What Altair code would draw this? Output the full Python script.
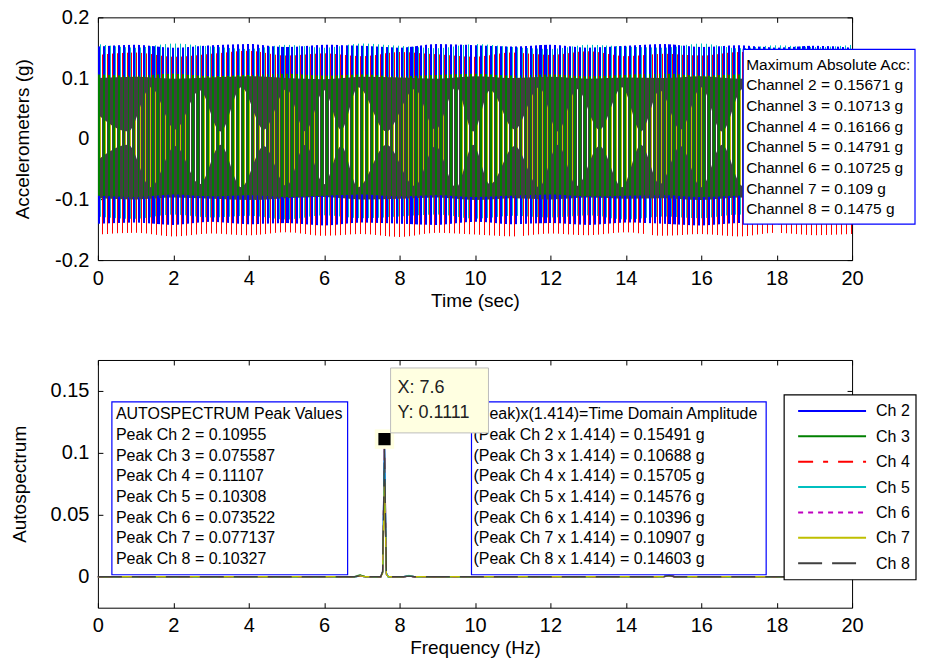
import altair as alt
import pandas as pd

# ---------------- data ----------------
channels = ["Ch 2", "Ch 3", "Ch 4", "Ch 5", "Ch 6", "Ch 7", "Ch 8"]
channel_nums = [2, 3, 4, 5, 6, 7, 8]
channel_colors = ["#0000FF", "#008000", "#FF0000", "#00BFBF", "#BF00BF", "#BFBF00", "#404040"]
channel_dash = [[1, 0], [1, 0], [15, 10, 5, 10], [1, 0], [5, 5], [1, 0], [24, 10]]

# top panel: envelopes of the 7.6 Hz oscillation (g)
env_time = [0, 1, 2, 3, 4, 5, 6, 7, 8, 9, 10, 11, 12, 13, 14, 15, 16, 17, 18, 19, 20]
env_upper = {
    "Ch 2": [0.152, 0.155, 0.150, 0.154, 0.156, 0.151, 0.155, 0.153, 0.150, 0.156, 0.154,
             0.152, 0.155, 0.150, 0.153, 0.156, 0.151, 0.154, 0.150, 0.153, 0.150],
    "Ch 3": [0.106, 0.104, 0.107, 0.103, 0.105, 0.107, 0.104, 0.106, 0.103, 0.105, 0.107,
             0.104, 0.106, 0.103, 0.105, 0.107, 0.104, 0.106, 0.104, 0.105, 0.104],
    "Ch 4": [0.138, 0.142, 0.135, 0.140, 0.145, 0.137, 0.141, 0.136, 0.143, 0.139, 0.135,
             0.142, 0.138, 0.144, 0.136, 0.140, 0.137, 0.143, 0.139, 0.135, 0.140],
    "Ch 5": [0.156, 0.150, 0.157, 0.152, 0.148, 0.155, 0.150, 0.157, 0.153, 0.149, 0.156,
             0.151, 0.148, 0.155, 0.152, 0.150, 0.157, 0.149, 0.154, 0.151, 0.155],
    "Ch 6": [0.090, 0.092, 0.088, 0.091, 0.093, 0.089, 0.092, 0.090, 0.088, 0.091, 0.093,
             0.089, 0.090, 0.092, 0.088, 0.091, 0.090, 0.093, 0.089, 0.091, 0.090],
    "Ch 8": [0.100, 0.102, 0.099, 0.101, 0.103, 0.100, 0.098, 0.102, 0.101, 0.099, 0.103,
             0.100, 0.102, 0.099, 0.101, 0.100, 0.103, 0.099, 0.101, 0.100, 0.102],
}
env_lower = {
    "Ch 2": [-0.140, -0.138, -0.142, -0.137, -0.141, -0.139, -0.143, -0.138, -0.140, -0.142, -0.137,
             -0.141, -0.139, -0.142, -0.138, -0.140, -0.143, -0.139, -0.141, -0.138, -0.140],
    "Ch 3": [-0.094, -0.096, -0.092, -0.095, -0.093, -0.096, -0.094, -0.092, -0.095, -0.093, -0.096,
             -0.094, -0.092, -0.095, -0.094, -0.093, -0.096, -0.094, -0.092, -0.095, -0.094],
    "Ch 4": [-0.158, -0.155, -0.161, -0.156, -0.159, -0.154, -0.160, -0.157, -0.162, -0.155, -0.158,
             -0.161, -0.156, -0.159, -0.154, -0.160, -0.157, -0.161, -0.155, -0.159, -0.157],
    "Ch 5": [-0.128, -0.132, -0.125, -0.130, -0.127, -0.133, -0.126, -0.131, -0.128, -0.125, -0.132,
             -0.127, -0.130, -0.126, -0.133, -0.128, -0.131, -0.125, -0.129, -0.132, -0.127],
    "Ch 6": [-0.088, -0.090, -0.086, -0.089, -0.091, -0.087, -0.090, -0.088, -0.086, -0.089, -0.091,
             -0.087, -0.088, -0.090, -0.086, -0.089, -0.088, -0.091, -0.087, -0.089, -0.088],
    "Ch 8": [-0.098, -0.100, -0.097, -0.099, -0.101, -0.098, -0.096, -0.100, -0.099, -0.097, -0.101,
             -0.098, -0.100, -0.097, -0.099, -0.098, -0.101, -0.097, -0.099, -0.098, -0.100],
}
# Ch 7 beats: envelope read at its bulges and waists
ch7_time = [0, 0.8, 1.4, 2.05, 2.7, 3.25, 3.8, 4.4, 5.0, 5.5, 6.0, 6.45, 6.9, 7.65, 8.4, 8.95, 9.5,
            9.95, 10.4, 11.05, 11.7, 12.2, 12.7, 13.3, 13.9, 14.4, 14.9, 15.45, 16.0, 16.55, 17.1,
            17.65, 18.2, 18.75, 19.3, 19.85, 20]
ch7_upper = [0.040, 0.012, 0.085, 0.015, 0.080, 0.012, 0.085, 0.015, 0.082, 0.012, 0.080, 0.015,
             0.085, 0.012, 0.082, 0.015, 0.085, 0.012, 0.080, 0.015, 0.085, 0.012, 0.082, 0.015,
             0.085, 0.012, 0.080, 0.015, 0.085, 0.012, 0.082, 0.015, 0.085, 0.012, 0.080, 0.015, 0.050]
ch7_lower = [-0.035, -0.010, -0.080, -0.012, -0.075, -0.010, -0.080, -0.012, -0.078, -0.010, -0.075,
             -0.012, -0.080, -0.010, -0.078, -0.012, -0.080, -0.010, -0.075, -0.012, -0.080, -0.010,
             -0.078, -0.012, -0.080, -0.010, -0.075, -0.012, -0.080, -0.010, -0.078, -0.012, -0.080,
             -0.010, -0.075, -0.012, -0.045]

max_abs = [0.15671, 0.10713, 0.16166, 0.14791, 0.10725, 0.109, 0.1475]

# bottom panel: autospectrum
spec_freq = [0, 3.0, 6.8, 6.95, 7.1, 7.5, 7.55, 7.6, 7.65, 7.7, 8.1, 8.25, 8.4, 15.0, 15.15, 15.3, 20]
spec_vals = {
    "Ch 2": [0, 0, 0, 0.0004, 0, 0, 0.004, 0.10955, 0.003, 0, 0, 0.0004, 0, 0, 0.0008, 0, 0],
    "Ch 3": [0, 0, 0, 0.0015, 0, 0, 0.003, 0.075587, 0.002, 0, 0, 0.0006, 0, 0, 0.0012, 0, 0],
    "Ch 4": [0, 0, 0, 0.0006, 0, 0, 0.004, 0.11107, 0.003, 0, 0, 0.0008, 0, 0, 0.0010, 0, 0],
    "Ch 5": [0, 0, 0, 0.0005, 0, 0, 0.004, 0.10308, 0.003, 0, 0, 0.0010, 0, 0, 0.0009, 0, 0],
    "Ch 6": [0, 0, 0, 0.0004, 0, 0, 0.003, 0.073522, 0.002, 0, 0, 0.0005, 0, 0, 0.0006, 0, 0],
    "Ch 7": [0, 0, 0, 0.0006, 0, 0, 0.003, 0.077137, 0.002, 0, 0, 0.0004, 0, 0, 0.0007, 0, 0],
    "Ch 8": [0, 0, 0, 0.0008, 0, 0, 0.004, 0.10327, 0.003, 0, 0, 0.0005, 0, 0, 0.0010, 0, 0],
}
peak_values = [0.10955, 0.075587, 0.11107, 0.10308, 0.073522, 0.077137, 0.10327]
time_amp = [0.15491, 0.10688, 0.15705, 0.14576, 0.10396, 0.10907, 0.14603]
tip_x = 7.6
tip_y = 0.1111

top_xticks = [0, 2, 4, 6, 8, 10, 12, 14, 16, 18, 20]
top_yticks = [-0.2, -0.1, 0, 0.1, 0.2]
bot_xticks = [0, 2, 4, 6, 8, 10, 12, 14, 16, 18, 20]
bot_yticks = [0, 0.05, 0.1, 0.15]

# ---------------- style ----------------
FONT = "Liberation Sans"
W = 755
H1 = 243
H2 = 248
N_CYC = 152  # stripe count of the dense oscillation (7.6 Hz over 20 s)
CLEAR = "rgba(255,255,255,0)"
LABEL_EXPR = "datum.value < 0 ? '-' + format(-datum.value, '') : format(datum.value, '')"


def stripes(parts):
    """parts: list of (color, start, end) inside one oscillation cycle, sorted by start."""
    stops = []
    for k in range(N_CYC):
        for color, a, b in parts:
            o1 = round((k + a) / N_CYC, 6)
            o2 = round((k + b) / N_CYC, 6)
            stops += [alt.GradientStop(color=CLEAR, offset=o1),
                      alt.GradientStop(color=color, offset=o1),
                      alt.GradientStop(color=color, offset=o2),
                      alt.GradientStop(color=CLEAR, offset=o2)]
    return alt.LinearGradient(gradient="linear", stops=stops, x1=0, x2=1, y1=0, y2=0)


def axis_layers(xf, yf, xdom, ydom, xvals, yvals, xtitle, ytitle, ytp, xtp):
    dummy = pd.DataFrame({xf: [xdom[0]], yf: [ydom[0]]})
    xs = alt.Scale(domain=xdom, nice=False, zero=False)
    ys = alt.Scale(domain=ydom, nice=False, zero=False)
    main = alt.Chart(dummy).mark_point(opacity=0).encode(
        x=alt.X(f"{xf}:Q", scale=xs,
                axis=alt.Axis(values=xvals, title=xtitle, orient="bottom", offset=-5, tickSize=5,
                              domain=False, grid=False, labelPadding=8, titlePadding=xtp,
                              labelFlush=False, labelOverlap=False, labelExpr=LABEL_EXPR)),
        y=alt.Y(f"{yf}:Q", scale=ys,
                axis=alt.Axis(values=yvals, title=ytitle, orient="left", offset=-5, tickSize=5,
                              domain=False, grid=False, labelPadding=9, titlePadding=ytp,
                              labelFlush=False, labelOverlap=False, labelExpr=LABEL_EXPR)),
    )
    frame = alt.Chart(dummy).mark_point(opacity=0).encode(
        x=alt.X(f"{xf}:Q", scale=xs,
                axis=alt.Axis(values=xvals, title=None, orient="top", offset=-5, tickSize=5,
                              domain=False, grid=False, labels=False)),
        y=alt.Y(f"{yf}:Q", scale=ys,
                axis=alt.Axis(values=yvals, title=None, orient="right", offset=-5, tickSize=5,
                              domain=False, grid=False, labels=False)),
    )
    return [main, frame], xs, ys


one = pd.DataFrame({"k": [0]})


def box(x1, x2, y1, y2, stroke, fill="white", sw=1.2):
    return alt.Chart(one).mark_rect(fill=fill, stroke=stroke, strokeWidth=sw).encode(
        x=alt.value(x1), x2=alt.value(x2), y=alt.value(y1), y2=alt.value(y2))


def text_block(lines, x, y, size=16, lh=20.7, color="black"):
    return alt.Chart(one).mark_text(text=lines, align="left", baseline="alphabetic", font=FONT,
                                    fontSize=size, lineHeight=lh, color=color).encode(
        x=alt.value(x), y=alt.value(y))


# ---------------- top panel ----------------
top_axes, txs, tys = axis_layers("t", "v", [0, 20], [-0.2, 0.2], top_xticks, top_yticks,
                                 "Time (sec)", "Accelerometers (g)", 22, 3)

col_of = dict(zip(channels, channel_colors))
stripe_spec = {  # stroke positions of each channel inside one oscillation cycle
    "Ch 2": [(col_of["Ch 2"], 0.00, 0.42)],
    "Ch 5": [(col_of["Ch 5"], 0.50, 0.70)],
    "Ch 4": [(col_of["Ch 4"], 0.77, 0.97)],
    "Ch 6": [(col_of["Ch 6"], 0.40, 0.60)],
    "Ch 3": [(col_of["Ch 3"], 0.00, 0.36)],
    "Ch 8": [(col_of["Ch 8"], 0.36, 1.00)],
    "Ch 7": [(col_of["Ch 7"], 0.48, 0.66), ("white", 0.66, 0.78)],
}
draw_order = ["Ch 2", "Ch 5", "Ch 4", "Ch 6", "Ch 3", "Ch 8", "Ch 7"]
bands = []
for ch in draw_order:
    if ch == "Ch 7":
        df = pd.DataFrame({"t": ch7_time, "v": ch7_upper, "v2": ch7_lower})
    else:
        df = pd.DataFrame({"t": env_time, "v": env_upper[ch], "v2": env_lower[ch]})
    bands.append(alt.Chart(df).mark_area(color=stripes(stripe_spec[ch]), interpolate="monotone").encode(
        x=alt.X("t:Q", scale=txs, axis=None),
        y=alt.Y("v:Q", scale=tys, axis=None),
        y2="v2:Q"))

top_lines = ["Maximum Absolute Acc:"] + [f"Channel {n} = {v} g" for n, v in zip(channel_nums, max_abs)]
top_ann = [box(646, 818, 32, 207, "#0000FF"), text_block(top_lines, 649, 52.3, size=15.5)]

top = alt.layer(*top_axes, *bands, *top_ann).resolve_axis(
    x="independent", y="independent").properties(width=W, height=H1)

# ---------------- bottom panel ----------------
bot_axes, bxs, bys = axis_layers("f", "a", [0, 20], [-0.025, 0.175], bot_xticks, bot_yticks,
                                 "Frequency (Hz)", "Autospectrum", 21, 3)
spec_layers = []
for ch, col, dash in zip(channels, channel_colors, channel_dash):
    df = pd.DataFrame({"f": spec_freq, "a": spec_vals[ch]})
    spec_layers.append(alt.Chart(df).mark_line(color=col, strokeDash=dash, strokeWidth=1.3).encode(
        x=alt.X("f:Q", scale=bxs, axis=None),
        y=alt.Y("a:Q", scale=bys, axis=None)))

box1_lines = ["AUTOSPECTRUM Peak Values"] + [f"Peak Ch {n} = {v}" for n, v in zip(channel_nums, peak_values)]
box2_lines = ["(Peak)x(1.414)=Time Domain Amplitude"] + [
    f"(Peak Ch {n} x 1.414) = {v} g" for n, v in zip(channel_nums, time_amp)]

tip_df = pd.DataFrame({"f": [tip_x], "a": [tip_y]})
tip_halo = alt.Chart(tip_df).mark_square(size=380, color="#FFFFE1", opacity=1).encode(
    x=alt.X("f:Q", scale=bxs, axis=None), y=alt.Y("a:Q", scale=bys, axis=None))
tip_mark = alt.Chart(tip_df).mark_square(size=150, color="black", opacity=1).encode(
    x=alt.X("f:Q", scale=bxs, axis=None), y=alt.Y("a:Q", scale=bys, axis=None))

leg_rows = [51 + 25.4 * i for i in range(len(channels))]
legend_layers = [box(687, 819, 35, 220, "black", sw=1.2)]
for ch, col, dash, ry in zip(channels, channel_colors, channel_dash, leg_rows):
    legend_layers.append(alt.Chart(one).mark_rule(color=col, strokeDash=dash, strokeWidth=2).encode(
        x=alt.value(701), x2=alt.value(769), y=alt.value(ry)))
legend_layers.append(text_block(channels, 779, leg_rows[0] + 5.5, size=16, lh=25.4))

bot_ann = [
    box(14, 250, 42, 215, "#0000FF"), text_block(box1_lines, 18, 59.3),
    box(374, 669, 42, 215, "#0000FF"), text_block(box2_lines, 376, 59.3),
    tip_halo, tip_mark,
    box(293, 391, 8, 73, "#BDBDBD", fill="#FFFFE1", sw=1),
    text_block([f"X: {tip_x}", f"Y: {tip_y}"], 300, 33, size=18, lh=25, color="#222222"),
]

bottom = alt.layer(*bot_axes, *spec_layers, *bot_ann, *legend_layers).resolve_axis(
    x="independent", y="independent").properties(width=W, height=H2)

chart = alt.vconcat(top, bottom, spacing=100, bounds="flush").properties(
    padding={"left": 1, "top": -2, "right": 0, "bottom": 0}, background="white"
).configure_view(stroke="black", strokeWidth=1).configure_axis(
    labelFont=FONT, titleFont=FONT, labelFontSize=20, titleFontSize=19,
    labelColor="black", titleColor="black", tickColor="black", tickWidth=1,
    titleFontWeight="normal"
)

chart.save("out.html", embed_options={"renderer": "svg", "actions": False})
